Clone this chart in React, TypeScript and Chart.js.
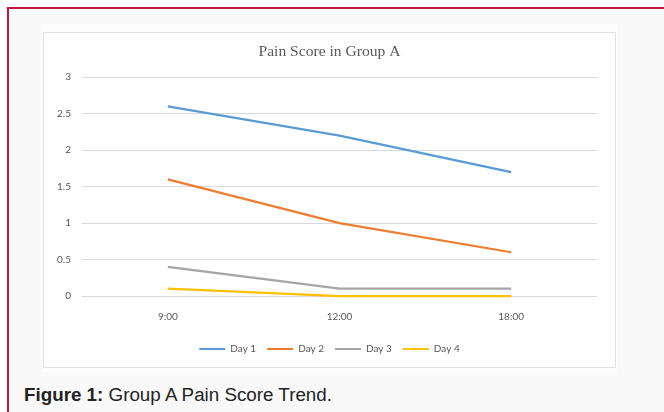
import React, { useEffect, useRef } from "react";
import { Chart, registerables } from "chart.js";

Chart.register(...registerables);

const categories = ["9:00", "12:00", "18:00"];
const day1 = [2.6, 2.2, 1.7];
const day2 = [1.6, 1.0, 0.6];
const day3 = [0.4, 0.1, 0.1];
const day4 = [0.1, 0, 0];
const seriesNames = ["Day 1", "Day 2", "Day 3", "Day 4"];
const seriesValues = [day1, day2, day3, day4];
const seriesColors = ["#5B9BD5", "#ED7D31", "#A5A5A5", "#FFC000"];
const yMin = 0;
const yMax = 3;
const yStep = 0.5;
const chartTitle = "Pain Score in Group A";
const captionBold = "Figure 1:";
const captionText = " Group A Pain Score Trend.";

function LineChart() {
  const ref = useRef<HTMLCanvasElement | null>(null);
  useEffect(() => {
    if (!ref.current) return;
    const chart = new Chart(ref.current, {
      type: "line",
      data: {
        labels: categories,
        datasets: seriesNames.map((name, i) => ({
          label: name,
          data: seriesValues[i],
          borderColor: seriesColors[i],
          backgroundColor: seriesColors[i],
          borderWidth: 2.25,
          pointRadius: 0,
          pointHoverRadius: 0,
          tension: 0,
          fill: false,
          clip: 4,
          order: seriesNames.length - i,
          yAxisID: "y",
        })),
      },
      options: {
        responsive: false,
        animation: false,
        layout: { padding: { left: 0, right: 0, top: 0, bottom: 3 } },
        plugins: {
          tooltip: { enabled: false },
          title: {
            display: true,
            text: chartTitle,
            color: "#595959",
            font: { family: "'Liberation Serif', serif", size: 15.6, weight: "normal" },
            padding: { top: 10, bottom: 15.5 },
          },
          legend: {
            position: "bottom",
            labels: {
              boxWidth: 26,
              boxHeight: 2,
              padding: 11,
              color: "#595959",
              font: { family: "Lato, 'Open Sans', sans-serif", size: 10 },
              sort: (a: any, b: any) => a.datasetIndex - b.datasetIndex,
              generateLabels: (c: any) =>
                (Chart.defaults.plugins.legend.labels as any)
                  .generateLabels(c)
                  .map((l: any) => ({ ...l, fillStyle: l.strokeStyle, lineWidth: 0 })),
            },
          },
        },
        scales: {
          x: {
            offset: true,
            grid: { display: false, drawTicks: false },
            border: { display: false },
            ticks: {
              color: "#595959",
              padding: 15,
              font: { family: "Lato, 'Open Sans', sans-serif", size: 10 },
            },
            afterFit: (s: any) => {
              s.height = 37;
            },
          },
          y: {
            min: yMin,
            max: yMax,
            grid: { color: "#d9d9d9", lineWidth: 1, drawTicks: false },
            border: { display: false },
            ticks: {
              stepSize: yStep,
              color: "#595959",
              padding: 11,
              font: { family: "Lato, 'Open Sans', sans-serif", size: 10 },
              callback: (v: any) => String(Number(v)),
            },
            afterFit: (s: any) => {
              s.width = 38;
            },
          },
          yRight: {
            type: "linear",
            position: "right",
            min: yMin,
            max: yMax,
            grid: { display: false, drawTicks: false },
            border: { display: false },
            ticks: { display: false },
            afterFit: (s: any) => {
              s.width = 18;
            },
          },
        },
      } as any,
    });
    return () => chart.destroy();
  }, []);
  return <canvas ref={ref} width={571} height={334} style={{ display: "block" }} />;
}

export default function App() {
  return (
    <div
      style={{
        position: "fixed",
        left: 0,
        top: 0,
        width: 664,
        height: 412,
        background: "#ffffff",
        overflow: "hidden",
      }}
    >
      <div
        style={{
          position: "absolute",
          left: 7,
          top: 7,
          width: 700,
          height: 450,
          borderTop: "2px solid #c4163f",
          borderLeft: "2px solid #c4163f",
          background: "#faf9f9",
        }}
      />
      <div
        style={{
          position: "absolute",
          left: 42,
          top: 24,
          width: 575,
          height: 348,
          background: "#fdfdfd",
        }}
      />
      <div
        style={{
          position: "absolute",
          left: 43,
          top: 32,
          width: 571,
          height: 334,
          border: "1px solid #e2e2e2",
          background: "#ffffff",
        }}
      >
        <LineChart />
      </div>
      <div
        style={{
          position: "absolute",
          left: 24,
          top: 384,
          fontFamily: "'Liberation Sans', Arial, sans-serif",
          fontSize: 18.8,
          color: "#222222",
          whiteSpace: "nowrap",
          lineHeight: "22px",
        }}
      >
        <b>{captionBold}</b>
        {captionText}
      </div>
    </div>
  );
}
